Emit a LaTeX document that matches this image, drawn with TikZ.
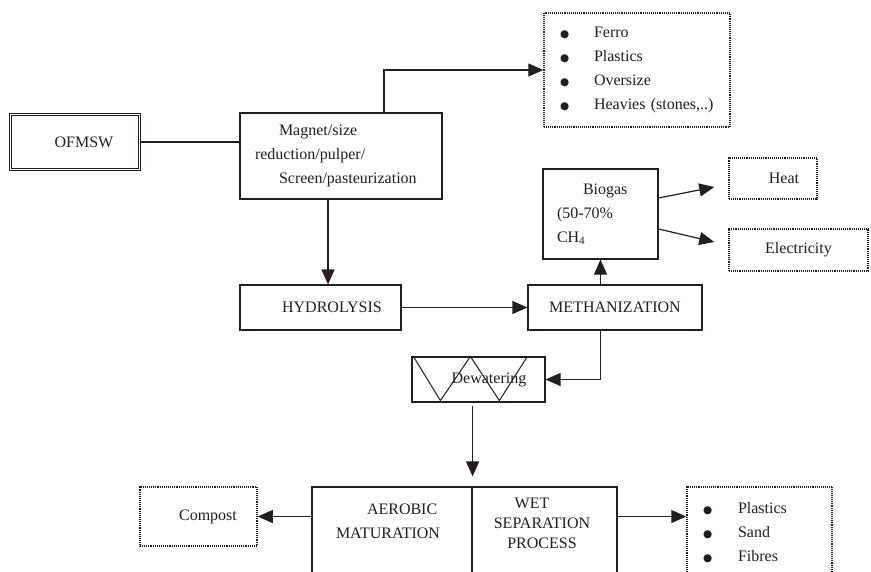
\documentclass[tikz,border=0pt]{standalone}
\usepackage{fontspec}
\setmainfont{Liberation Serif}
\newfontfamily\symfont{DejaVu Sans}
\usetikzlibrary{arrows.meta,calc}
\definecolor{ink}{HTML}{231F20}
\newcommand{\bigbul}[1]{\makebox[#1][l]{{\symfont\fontsize{10.5}{10.5}\selectfont ●}}}
\begin{document}
\begin{tikzpicture}[x=1pt,y=-1pt,
  font=\fontsize{16}{24}\selectfont,
  box/.style={draw=ink, line width=1.2pt, inner sep=0pt, text=ink},
  dotbox/.style={draw=ink, line width=1.5pt, dash pattern=on 1pt off 0.9pt, inner sep=0pt, text=ink},
  plain/.style={draw=ink, line width=1.2pt},
  arr/.style={draw=ink, line width=1.2pt, -{Triangle[length=15pt,width=13pt]}},
  txt/.style={inner sep=0pt, text=ink}]
\useasboundingbox (0,0) rectangle (871,571);
\fill[white] (0,0) rectangle (871,571);
\clip (0,0) rectangle (871,571);

% nodes
\node[box, double=white, double distance=1.8pt, line width=0.9pt, minimum width=129pt, minimum height=55pt] (ofmsw) at (75,142) {\hspace*{18pt}OFMSW};
\node[box, minimum width=202pt, minimum height=86pt, text width=172pt, align=left] (magnet) at (341,156)
  {\hspace*{24pt}Magnet/size\\reduction/pulper/\\\hspace*{24pt}Screen/pasteurization};
\node[dotbox, minimum width=186pt, minimum height=114pt, text width=154pt, align=left] (list1) at (637,70)
  {\bigbul{34pt}Ferro\\\bigbul{34pt}Plastics\\\bigbul{34pt}Oversize\\\bigbul{34pt}Heavies (stones,..)};
\node[box, minimum width=161pt, minimum height=45pt] (hydro) at (320.5,307.5) {\hspace*{23pt}HYDROLYSIS};
\node[box, minimum width=174pt, minimum height=45pt] (meth) at (615,307.5) {METHANIZATION};
\node[box, minimum width=115pt, minimum height=90pt, text width=87pt, align=left] (biogas) at (600.5,214)
  {\hspace*{26pt}Biogas\\(50-70\%\\CH\textsubscript{4}};
\node[dotbox, minimum width=88pt, minimum height=41pt] (heat) at (773,178.5) {\hspace*{22pt}Heat};
\node[dotbox, minimum width=139pt, minimum height=42pt] (elec) at (798.5,250) {Electricity};
\node[box, minimum width=133pt, minimum height=45pt] (dewater) at (478.5,379.5) {};
\draw[plain, line width=1pt] ([xshift=2pt]dewater.north west) -- ([xshift=29pt,yshift=2pt]dewater.south west)
  -- ([xshift=59pt]dewater.north west) -- ([xshift=88pt,yshift=2pt]dewater.south west)
  -- ([xshift=116pt]dewater.north west);
\node[txt] (dewatertext) at (dewater.center) {\hspace*{21pt}Dewatering};
\node[box, minimum width=160pt, minimum height=92pt] (aerobic) at (392,533) {};
\node[box, minimum width=145pt, minimum height=92pt] (wet) at (544.5,533) {};
\node[txt, text width=112pt, align=left] (aerotext) at (392,521) {\hspace*{31pt}AEROBIC\\MATURATION};
\node[txt, align=center, font=\fontsize{16}{20}\selectfont] (wettext) at (542,523) {WET\hspace*{20pt}\\SEPARATION\\PROCESS};
\node[dotbox, minimum width=117pt, minimum height=59pt] (compost) at (198.5,516.5) {\hspace*{19pt}Compost};
\node[dotbox, minimum width=145pt, minimum height=92pt, text width=113pt, align=left] (list2) at (759.5,533)
  {\bigbul{35pt}Plastics\\\bigbul{35pt}Sand\\\bigbul{35pt}Fibres};

% connectors
\draw[plain] (ofmsw.east) -- (ofmsw.east -| magnet.west);
\draw[arr] ([xshift=43pt]magnet.north) |- (list1.west);
\draw[arr] ([xshift=-13pt]magnet.south) -- ([xshift=-13pt]magnet.south |- hydro.north);
\draw[arr] (hydro.east) -- (meth.west);
\draw[arr] (meth.north -| biogas.south) -- (biogas.south);
\draw[arr] ([yshift=16pt]biogas.east) -- ([xshift=-14pt,yshift=-8.5pt]heat.west);
\draw[arr] ([yshift=-15pt]biogas.east) -- ([xshift=-14pt,yshift=8pt]elec.west);
\draw[arr] (meth.south -| biogas.south) |- (dewater.east);
\draw[arr, shorten >=10pt] ([yshift=-3pt]dewater.south -| aerobic.east) -- (aerobic.north east);
\draw[arr] (aerobic.west |- compost.east) -- (compost.east);
\draw[arr] (wet.east |- compost.east) -- (list2.west |- compost.east);
\end{tikzpicture}
\end{document}
